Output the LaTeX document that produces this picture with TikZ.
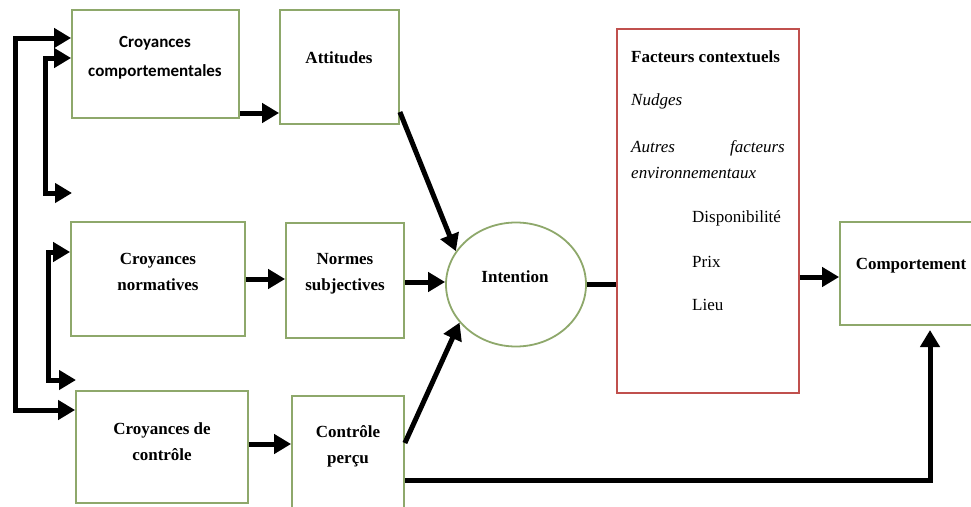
\documentclass[tikz,border=0pt]{standalone}
\usepackage{fontspec}
\setmainfont{Liberation Serif}
\newfontfamily\calibrilike{Carlito}
\usetikzlibrary{arrows.meta,shapes.geometric,calc}

\definecolor{boxgreen}{RGB}{142,168,107}
\definecolor{boxred}{RGB}{192,80,77}

\tikzset{
  gbox/.style={draw=boxgreen, line width=1.8pt, fill=white, inner sep=0pt},
  rbox/.style={draw=boxred, line width=1.8pt, inner sep=0pt},
  lbl/.style={font=\fontsize{17}{26}\selectfont\bfseries, align=center, inner sep=0pt},
  txt/.style={font=\fontsize{17}{26}\selectfont, inner sep=0pt, anchor=base west},
  flow/.style={line width=5pt, -{Triangle[length=17pt,width=19pt]}},
  twoway/.style={line width=5pt, {Triangle[length=17pt,width=19pt]}-{Triangle[length=17pt,width=19pt]}},
  plain/.style={line width=5pt},
}

\begin{document}
\begin{tikzpicture}[x=1pt, y=-1pt]
\clip (0,0) rectangle (971,506);
\fill[white] (0,0) rectangle (971,506);

% boxes
\node[gbox, minimum width=167pt, minimum height=108pt] (cc)   at (155.5,64) {};
\node[gbox, minimum width=119pt, minimum height=114pt] (att)  at (339.5,67) {};
\node[gbox, minimum width=174pt, minimum height=114pt] (cn)   at (158,279) {};
\node[gbox, minimum width=118pt, minimum height=115pt] (ns)   at (345,280.5) {};
\node[gbox, minimum width=172pt, minimum height=112pt] (ccon) at (162,447) {};
\node[gbox, minimum width=112pt, minimum height=130pt] (cp)   at (348,461) {};
\node[gbox, ellipse, minimum width=140pt, minimum height=124pt] (int) at (516,284.5) {};
\node[rbox, minimum width=182pt, minimum height=364pt] (fc)   at (708,211) {};
\node[gbox, minimum width=142pt, minimum height=103pt] (comp) at (911,273.5) {};

% box captions
\node[lbl, font=\fontsize{17}{29}\selectfont\calibrilike\bfseries] (tcc) at (155,58) {Croyances\\comportementales};
\node[lbl] (tatt)  at (339,58)  {Attitudes};
\node[lbl] (tcn)   at (158,272) {Croyances\\normatives};
\node[lbl] (tns)   at (345,274) {Normes\\subjectives};
\node[lbl] (tccon) at (162,442) {Croyances de\\contrôle};
\node[lbl] (tcp)   at (348,446) {Contrôle\\perçu};
\node[lbl] (tint)  at (515,277) {Intention};
\node[lbl] (tcomp) at (911,266) {Comportement};

% contextual factors
\node[txt, font=\fontsize{17}{26}\selectfont\bfseries] (f1) at (631,62) {Facteurs contextuels};
\node[txt, font=\fontsize{17}{26}\selectfont\itshape] (f2) at (631,105) {Nudges};
\node[txt, font=\fontsize{17}{26}\selectfont\itshape] (f3a) at (631,152) {Autres};
\node[txt, font=\fontsize{17}{26}\selectfont\itshape, anchor=base east] (f3b) at (785,152) {facteurs};
\node[txt, font=\fontsize{17}{26}\selectfont\itshape] (f4) at (631,178) {environnementaux};
\node[txt] (f5) at (692,222) {Disponibilité};
\node[txt] (f6) at (692,267) {Prix};
\node[txt] (f7) at (692,310) {Lieu};

% free ends on the left and the bend under the diagram
\coordinate (e1) at (72,193);
\coordinate (e2) at (76,380);
\coordinate (k)  at (930,480);

% left-hand feedback connectors
\draw[twoway] (cc.west |- 0,38) -- (15,38) -- (15,410) -- (ccon.west |- 0,410);
\draw[twoway] (cc.west |- 0,58) -- (45,58) -- (45,193) -- (e1);
\draw[twoway] (cn.west |- 0,252) -- (48,252) -- (48,380) -- (e2);

% main flow
\draw[flow] (cc.east |- 0,113) -- (att.west |- 0,113);
\draw[flow] (cn.east) -- (cn.east -| ns.west);
\draw[flow] (ccon.east |- 0,444) -- (cp.west |- 0,444);
\draw[flow] (att.east |- 0,112) -- (int.151);
\draw[flow] (ns.east |- 0,282) -- (int.west |- 0,282);
\draw[flow] (cp.east |- 0,443) -- (int.214);
\draw[plain] (int.east) -- (int.east -| fc.west);
\draw[flow] (fc.east |- 0,277) -- (comp.west |- 0,277);
\draw[flow] (cp.east |- k) -- (k) -- (k |- 0,330);
\end{tikzpicture}
\end{document}
